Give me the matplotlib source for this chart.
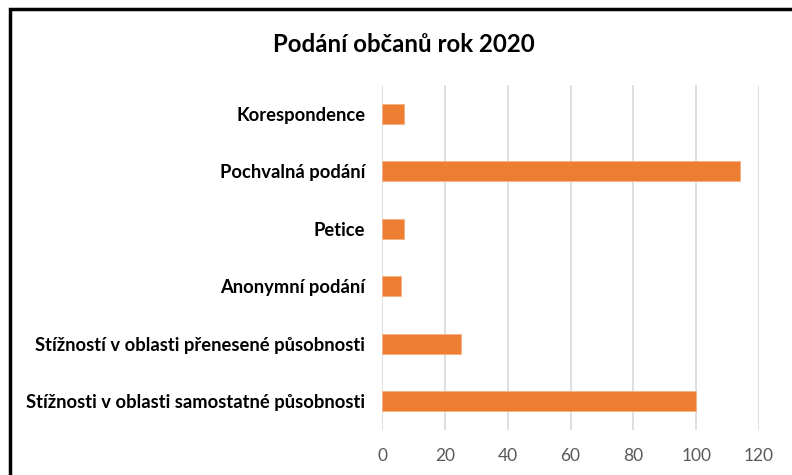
import matplotlib
matplotlib.use("Agg")
import matplotlib.pyplot as plt
from matplotlib.patches import Rectangle

# Data
categories = ['Korespondence', 'Pochvalná podání', 'Petice', 'Anonymní podání',
              'Stížností v oblasti přenesené působnosti',
              'Stížnosti v oblasti samostatné působnosti']
values     = [7, 114, 7, 6, 25, 100]
xticks     = [0, 20, 40, 60, 80, 100, 120]

plt.rcParams['font.family'] = ['Lato', 'DejaVu Sans']

fig = plt.figure(figsize=(7.92, 4.75), dpi=100)
ax  = fig.add_axes([382/792, 1 - 430/475, (759 - 382)/792, (430 - 85)/475])

pos = list(range(len(categories)))
ax.barh(pos, values, height=0.34, color='#ED7D31', edgecolor='#F4B183', linewidth=0.6, zorder=3)

ax.set_ylim(len(categories) - 0.5, -0.5)
ax.set_xlim(0, 120)
ax.set_xticks(xticks)
ax.set_xticklabels([str(t) for t in xticks], color='#595959', fontsize=12.5)
ax.set_yticks(pos)
ax.set_yticklabels(categories, fontsize=13.2, fontweight='bold', color='black')
ax.tick_params(axis='both', length=0)
ax.tick_params(axis='x', pad=13)
ax.tick_params(axis='y', pad=12)

ax.grid(axis='x', color='#D9D9D9', linewidth=1.2, zorder=0)
for s in ax.spines.values():
    s.set_visible(False)

fig.text(404/792, 1 - 45/475, 'Podání občanů rok 2020', ha='center', va='center',
         fontsize=17.3, fontweight='bold')

# outer black frame (cropped on right and bottom in the reference)
fig.patches.append(Rectangle((10/792, -0.1), 1.1, 1 - 9/475 + 0.1, transform=fig.transFigure,
                             fill=False, edgecolor='black', linewidth=2.5))

fig.savefig('out.png', dpi=100)
